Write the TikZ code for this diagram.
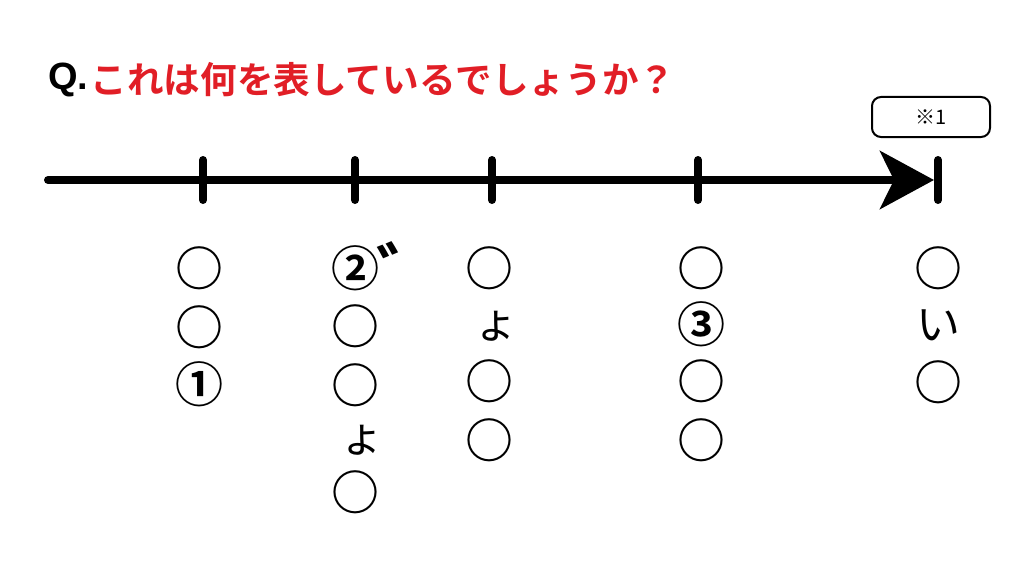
\documentclass[tikz,border=0pt]{standalone}
\usepackage{fontspec}
\newfontfamily\jp{Noto Sans CJK JP}
\newfontfamily\jpb{Noto Sans CJK JP Bold}
\setmainfont{Liberation Sans}
\usetikzlibrary{arrows.meta}
\definecolor{qred}{RGB}{225,30,38}
\begin{document}
\begin{tikzpicture}[x=1pt,y=-1pt,
  ch/.style={font=\jpb\fontsize{48}{48}\selectfont, inner sep=0pt, anchor=center},
  kana/.style={font=\jp\fontsize{44}{44}\selectfont, inner sep=0pt, anchor=center},
  tickln/.style={line width=8pt, line cap=round},
]
\useasboundingbox (0,0) rectangle (1032,583);
% title
\node[anchor=west, inner sep=0pt, font=\bfseries\fontsize{38}{38}\selectfont] (q) at (48,80) {Q.};
\node[anchor=west, inner sep=0pt, text=qred, font=\jpb\fontsize{36.6}{36.6}\selectfont] (title) at ([xshift=2pt]q.east) {これは何を表しているでしょうか？};
% note box
\node[draw, line width=2pt, rounded corners=9pt, minimum width=118pt, minimum height=40pt, inner sep=0pt, font=\jp\fontsize{20}{20}\selectfont] (note) at (931,117) {※1};
% axis
\coordinate (a0) at (48,180);
\coordinate (aend) at (934,180);
\draw[line width=8pt, line cap=round, -{Stealth[length=54pt,width=58pt,inset=14pt]}] (a0) -- (aend);
% ticks
\foreach \n/\x in {t1/203,t2/355,t3/492,t4/698,t5/938}{
  \coordinate (\n top) at (\x,160);
  \coordinate (\n bot) at (\x,200);
  \draw[tickln] (\n top) -- (\n bot);
}
% column 1
\node[ch] (c11) at (199,268) {○};
\node[ch] (c12) at (199,327) {○};
\node[ch] (c13) at (199,384) {①};
% column 2
\node[ch] (c21) at (355,268) {②};
\node[font=\jpb\fontsize{68}{68}\selectfont, inner sep=0pt, anchor=south west] (c2d) at (376,300) {゛};
\node[ch] (c22) at (355,326) {○};
\node[ch] (c23) at (355,385) {○};
\node[kana] (c24) at (362,440) {ょ};
\node[ch] (c25) at (355,492) {○};
% column 3
\node[ch] (c31) at (489,268) {○};
\node[kana] (c32) at (496,326) {ょ};
\node[ch] (c33) at (489,381) {○};
\node[ch] (c34) at (489,440) {○};
% column 4
\node[ch] (c41) at (701,268) {○};
\node[ch] (c42) at (701,324) {③};
\node[ch] (c43) at (701,381) {○};
\node[ch] (c44) at (701,440) {○};
% column 5
\node[ch] (c51) at (938,268) {○};
\node[kana] (c52) at (938,325) {い};
\node[ch] (c53) at (938,382) {○};
\end{tikzpicture}
\end{document}
